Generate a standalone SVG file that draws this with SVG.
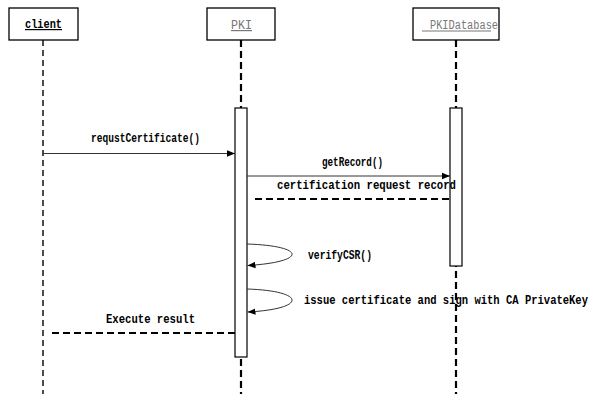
<svg xmlns="http://www.w3.org/2000/svg" width="593" height="394" viewBox="0 0 593 394">
  <style>
    .box { fill: #fff; stroke: #000; stroke-width: 1.3; }
    .act { fill: #fff; stroke: #000; stroke-width: 1.2; }
    .life-thin { stroke: #000; stroke-width: 1.4; stroke-dasharray: 6 4; fill: none; }
    .life-thick { stroke: #000; stroke-width: 2.2; stroke-dasharray: 7 4; fill: none; }
    .msg { stroke: #333; stroke-width: 1; fill: none; }
    .ret { stroke: #000; stroke-width: 2; stroke-dasharray: 7 4; fill: none; }
    .lbl { font-family: "Liberation Mono", "DejaVu Sans Mono", monospace; font-weight: bold; font-size: 12px; fill: #000; }
    .name { font-family: "Liberation Mono", "DejaVu Sans Mono", monospace; font-size: 12px; fill: #777; }
  </style>
  <defs>
    <marker id="arrow" viewBox="0 0 8 8" refX="8" refY="4" markerWidth="8" markerHeight="8" markerUnits="userSpaceOnUse" orient="auto">
      <path d="M0,0.8 L8,4 L0,7.2 Z" fill="#000"/>
    </marker>
  </defs>

  <!-- participants -->
  <g id="client">
    <line class="life-thin" x1="43" y1="40" x2="43" y2="394"/>
    <rect class="box" x="9" y="8" width="69" height="32"/>
    <text class="lbl" x="25" y="28" text-decoration="underline" textLength="37" lengthAdjust="spacingAndGlyphs">client</text>
  </g>
  <g id="pki">
    <line class="life-thick" x1="241" y1="40" x2="241" y2="394"/>
    <rect class="box" x="207" y="8" width="68" height="32"/>
    <text class="name" x="231" y="29" text-decoration="underline" textLength="21" lengthAdjust="spacingAndGlyphs">PKI</text>
    <rect class="act" x="235" y="108" width="12" height="249"/>
  </g>
  <g id="pkidatabase">
    <line class="life-thick" x1="456" y1="40" x2="456" y2="394"/>
    <rect class="box" x="413" y="8" width="86" height="32"/>
    <line x1="422" y1="31" x2="491" y2="31" stroke="#777" stroke-width="1"/>
    <text class="name" x="430" y="29" textLength="68" lengthAdjust="spacingAndGlyphs">PKIDatabase</text>
    <rect class="act" x="450" y="108" width="12" height="158"/>
  </g>

  <!-- messages -->
  <g id="connectors">
    <line class="msg" x1="43" y1="153.5" x2="235" y2="153.5" marker-end="url(#arrow)"/>
    <line class="msg" x1="247" y1="176" x2="450" y2="176" stroke="#777" marker-end="url(#arrow)"/>
    <line class="ret" x1="255" y1="199" x2="451" y2="199"/>
    <path class="msg" d="M247,244 C307,246 307,262 247.5,265.5" marker-end="url(#arrow)"/>
    <path class="msg" d="M247,289 C307,291 307,309 247.5,312" marker-end="url(#arrow)"/>
    <line class="ret" x1="52" y1="333" x2="236" y2="333"/>
  </g>

  <!-- message labels -->
  <g id="labels">
    <text class="lbl" x="91" y="142" textLength="109" lengthAdjust="spacingAndGlyphs">requstCertificate()</text>
    <text class="lbl" x="322" y="166" textLength="61" lengthAdjust="spacingAndGlyphs">getRecord()</text>
    <text class="lbl" x="277" y="189" textLength="179" lengthAdjust="spacingAndGlyphs">certification request record</text>
    <text class="lbl" x="308" y="259" textLength="64" lengthAdjust="spacingAndGlyphs">verifyCSR()</text>
    <text class="lbl" x="304" y="304" textLength="284" lengthAdjust="spacingAndGlyphs">issue certificate and sign with CA PrivateKey</text>
    <text class="lbl" x="106" y="323" textLength="89" lengthAdjust="spacingAndGlyphs">Execute result</text>
  </g>
</svg>
